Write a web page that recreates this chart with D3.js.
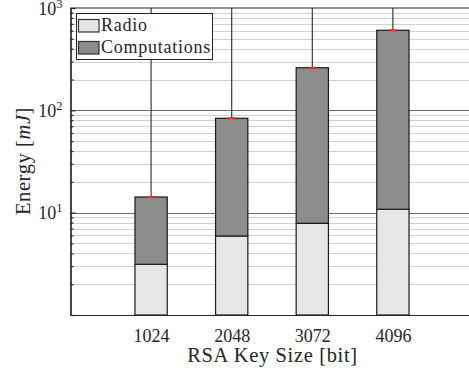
<!DOCTYPE html>
<html>
<head>
<meta charset="utf-8">
<script src="https://cdn.jsdelivr.net/npm/d3@7"></script>
<style>
  body { margin: 0; background: #fff; }
  text { font-family: "Liberation Serif", "Times New Roman", serif; fill: #262626; }
</style>
</head>
<body>
<div class="chart"></div>
<script>
// Data
var keySizes = [1024, 2048, 3072, 4096];
var radio = [3.13, 5.92, 7.87, 10.8];
var computations = [11.1, 77.7, 253, 595];
var errUpper = [2000, 2000, 2000, 2000];
var yTickExp = [0, 1, 2, 3];
var seriesNames = ["Radio", "Computations"];
var seriesColors = ["#e6e6e6", "#8c8c8c"];

// SVG area
var svgWidth = 469;
var svgHeight = 370;
var margin = { top: 8, right: -4.5, bottom: 55, left: 70.5 };
var chartWidth = svgWidth - margin.left - margin.right;
var chartHeight = svgHeight - margin.top - margin.bottom;

var svg = d3.select(".chart")
  .append("svg")
  .attr("width", svgWidth)
  .attr("height", svgHeight);

svg.append("rect")
  .attr("width", svgWidth)
  .attr("height", svgHeight)
  .attr("fill", "#fff");

svg.append("clipPath")
  .attr("id", "plotClip")
  .append("rect")
  .attr("x", 0)
  .attr("y", 0)
  .attr("width", chartWidth)
  .attr("height", chartHeight);

var chartGroup = svg.append("g")
  .attr("transform", `translate(${margin.left}, ${margin.top})`);

// Scales
var xScale = d3.scaleLinear()
  .domain([0, 5120])
  .range([0, chartWidth]);

var yScale = d3.scaleLog()
  .domain([1, 1000])
  .range([chartHeight, 0]);

var barWidth = xScale(410) - xScale(0);

// minor and major tick values
var majorVals = yTickExp.map(e => Math.pow(10, e));
var minorVals = [];
majorVals.slice(0, -1).forEach(function(d) {
  for (var k = 2; k <= 9; k++) minorVals.push(k * d);
});

// Grid lines
chartGroup.append("g")
  .selectAll("line")
  .data(minorVals)
  .enter()
  .append("line")
  .attr("x1", 0)
  .attr("x2", chartWidth)
  .attr("y1", d => Math.round(yScale(d)) + 0.5)
  .attr("y2", d => Math.round(yScale(d)) + 0.5)
  .attr("stroke", "#d2d2d2")
  .attr("stroke-width", 1.2);

chartGroup.append("g")
  .selectAll("line")
  .data(majorVals.slice(1, -1))
  .enter()
  .append("line")
  .attr("x1", 0)
  .attr("x2", chartWidth)
  .attr("y1", d => Math.round(yScale(d)) + 0.5)
  .attr("y2", d => Math.round(yScale(d)) + 0.5)
  .attr("stroke", "#6a6a6a")
  .attr("stroke-width", 1.2);

// Axes
var leftAxis = d3.axisLeft(yScale)
  .tickValues(minorVals)
  .tickSizeInner(-3)
  .tickSizeOuter(0)
  .tickFormat("");

var leftAxisMajor = d3.axisLeft(yScale)
  .tickValues(majorVals)
  .tickSizeInner(-5)
  .tickSizeOuter(0)
  .tickFormat("");

var bottomAxis = d3.axisBottom(xScale)
  .tickValues(keySizes)
  .tickSizeInner(-5)
  .tickSizeOuter(0)
  .tickPadding(14)
  .tickFormat(d3.format("d"));

var gLeft = chartGroup.append("g").call(leftAxis);
var gLeftMajor = chartGroup.append("g").call(leftAxisMajor);
var gBottom = chartGroup.append("g")
  .attr("transform", `translate(0, ${chartHeight})`)
  .call(bottomAxis);

[gLeft, gLeftMajor, gBottom].forEach(function(g) {
  g.selectAll("path, line").attr("stroke", "#262626").attr("stroke-width", 1.2);
});
gBottom.selectAll("text")
  .attr("font-size", 18)
  .attr("font-family", "Liberation Serif")
  .attr("fill", "#262626");

// top box line
chartGroup.append("line")
  .attr("x1", 0)
  .attr("x2", chartWidth)
  .attr("y1", yScale(1000))
  .attr("y2", yScale(1000))
  .attr("stroke", "#262626")
  .attr("stroke-width", 1.2);

// Y tick labels 10^k
var yLabels = chartGroup.append("g");
yTickExp.slice(1).forEach(function(e) {
  var t = yLabels.append("text")
    .attr("x", -8)
    .attr("y", yScale(Math.pow(10, e)) + 6.5)
    .attr("text-anchor", "end")
    .attr("font-size", 18);
  t.append("tspan").text("10");
  t.append("tspan")
    .attr("font-size", 12.5)
    .attr("dy", -7)
    .text(e);
});

// Stacked bars
var stacked = keySizes.map(function(k, i) {
  return { key: k, radio: radio[i], total: radio[i] + computations[i], upper: errUpper[i] };
});

var plot = chartGroup.append("g").attr("clip-path", "url(#plotClip)");

// error bar lines
plot.selectAll(".err")
  .data(stacked)
  .enter()
  .append("line")
  .attr("class", "err")
  .attr("x1", d => xScale(d.key))
  .attr("x2", d => xScale(d.key))
  .attr("y1", d => yScale(d.total))
  .attr("y2", d => yScale(d.upper))
  .attr("stroke", "#2a2a2a")
  .attr("stroke-width", 1.1);

plot.selectAll(".radio")
  .data(stacked)
  .enter()
  .append("rect")
  .attr("class", "radio")
  .attr("x", d => xScale(d.key) - barWidth / 2)
  .attr("y", d => yScale(d.radio))
  .attr("width", barWidth)
  .attr("height", d => yScale(1) - yScale(d.radio))
  .attr("fill", seriesColors[0])
  .attr("stroke", "#1a1a1a")
  .attr("stroke-width", 1.2);

plot.selectAll(".comp")
  .data(stacked)
  .enter()
  .append("rect")
  .attr("class", "comp")
  .attr("x", d => xScale(d.key) - barWidth / 2)
  .attr("y", d => yScale(d.total))
  .attr("width", barWidth)
  .attr("height", d => yScale(d.radio) - yScale(d.total))
  .attr("fill", seriesColors[1])
  .attr("stroke", "#1a1a1a")
  .attr("stroke-width", 1.2);

// red markers at the bar tops
plot.selectAll(".mark")
  .data(stacked)
  .enter()
  .append("line")
  .attr("class", "mark")
  .attr("x1", d => xScale(d.key) - 3.5)
  .attr("x2", d => xScale(d.key) + 3.5)
  .attr("y1", d => yScale(d.total))
  .attr("y2", d => yScale(d.total))
  .attr("stroke", "#ff2020")
  .attr("stroke-width", 2);

// Axis titles
svg.append("text")
  .attr("x", 272.5)
  .attr("y", 362)
  .attr("text-anchor", "middle")
  .attr("font-size", 20.5)
  .attr("letter-spacing", 0.65)
  .text("RSA Key Size [bit]");

var yTitle = svg.append("text")
  .attr("transform", "translate(30, 161) rotate(-90)")
  .attr("text-anchor", "middle")
  .attr("font-size", 20.5)
  .attr("letter-spacing", 0.6);
yTitle.append("tspan").text("Energy [");
yTitle.append("tspan").attr("font-style", "italic").text("mJ");
yTitle.append("tspan").text("]");

// Legend
var legend = svg.append("g");
legend.append("rect")
  .attr("x", 76.5)
  .attr("y", 13.5)
  .attr("width", 136)
  .attr("height", 46)
  .attr("fill", "#fff")
  .attr("stroke", "#262626")
  .attr("stroke-width", 1);

seriesNames.forEach(function(name, i) {
  legend.append("rect")
    .attr("x", 78.5)
    .attr("y", 19.5 + i * 22)
    .attr("width", 20.5)
    .attr("height", 12.5)
    .attr("fill", seriesColors[i])
    .attr("stroke", "#333")
    .attr("stroke-width", 1.2);
  legend.append("text")
    .attr("x", 101)
    .attr("y", 30.5 + i * 22)
    .attr("font-size", 18)
    .attr("letter-spacing", 0.75)
    .text(name);
});
</script>
</body>
</html>
